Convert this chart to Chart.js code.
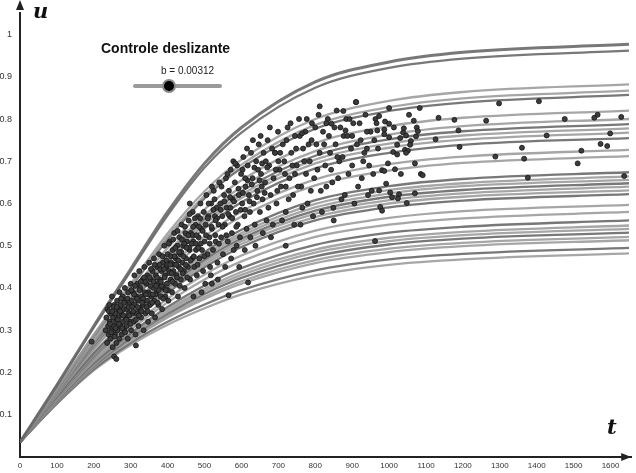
<!DOCTYPE html>
<html>
<head>
<meta charset="utf-8">
<script src="https://cdn.jsdelivr.net/npm/chart.js@4.4.1/dist/chart.umd.min.js"></script>
<style>
  body { margin: 0; background: #fff; overflow: hidden; width: 636px; height: 473px; position: relative;
         font-family: "Liberation Sans", Arial, sans-serif; }
  #wrap { position: absolute; left: -6px; top: 0; width: 642px; height: 473px; }
  #ttl { position: absolute; left: 101px; top: 40px; font-size: 14px; font-weight: bold; color: #111; }
  #bval { position: absolute; left: 161px; top: 65px; font-size: 10px; color: #222; }
  #track { position: absolute; left: 133px; top: 84px; width: 89px; height: 4px; border-radius: 2px; background: #9a9a9a; }
  #knob { position: absolute; left: 162px; top: 79px; width: 10px; height: 10px; border-radius: 50%;
          background: #000; border: 2px solid #8a8a8a; }
  .ax { position: absolute; font-family: "DejaVu Serif", "Liberation Serif", serif; font-style: italic;
        font-weight: bold; color: #111; font-size: 21px; }
  #lu { left: 33px; top: -2px; }
  #lt { left: 607px; top: 414px; }
</style>
</head>
<body>
<div id="wrap"><canvas id="c"></canvas></div>
<div id="ttl">Controle deslizante</div>
<div id="bval">b = 0.00312</div>
<div id="track"></div><div id="knob"></div>
<div class="ax" id="lu">u</div>
<div class="ax" id="lt">t</div>
<script>
// tempos onde as curvas foram lidas
const tKnots = [0, 100, 200, 300, 400, 500, 600, 800, 1000, 1200, 1650];

// curvas (u em cada tempo acima)
const curves = [
  [0.035,0.170,0.310,0.445,0.580,0.695,0.780,0.888,0.935,0.958,0.977],
  [0.035,0.169,0.307,0.440,0.572,0.685,0.768,0.874,0.921,0.943,0.962],
  [0.035,0.162,0.290,0.410,0.529,0.629,0.704,0.800,0.843,0.864,0.882],
  [0.035,0.160,0.287,0.405,0.521,0.619,0.692,0.786,0.828,0.849,0.867],
  [0.035,0.159,0.285,0.401,0.515,0.612,0.684,0.777,0.819,0.839,0.857],
  [0.035,0.156,0.277,0.388,0.495,0.586,0.655,0.743,0.783,0.803,0.820],
  [0.035,0.154,0.272,0.381,0.484,0.572,0.639,0.724,0.763,0.783,0.800],
  [0.035,0.153,0.270,0.376,0.478,0.564,0.629,0.713,0.752,0.771,0.788],
  [0.035,0.152,0.268,0.373,0.473,0.557,0.621,0.704,0.742,0.761,0.778],
  [0.035,0.151,0.266,0.369,0.467,0.550,0.613,0.695,0.732,0.751,0.768],
  [0.035,0.150,0.263,0.364,0.460,0.541,0.603,0.683,0.720,0.739,0.755],
  [0.035,0.148,0.257,0.354,0.445,0.522,0.581,0.657,0.693,0.711,0.727],
  [0.035,0.147,0.254,0.349,0.437,0.512,0.569,0.643,0.678,0.696,0.712],
  [0.035,0.143,0.246,0.335,0.417,0.485,0.538,0.608,0.641,0.658,0.674],
  [0.035,0.142,0.244,0.331,0.411,0.478,0.530,0.599,0.632,0.648,0.664],
  [0.035,0.142,0.242,0.328,0.407,0.473,0.524,0.591,0.624,0.641,0.656],
  [0.035,0.141,0.240,0.325,0.402,0.467,0.517,0.583,0.616,0.632,0.648],
  [0.035,0.140,0.239,0.322,0.398,0.461,0.511,0.576,0.608,0.624,0.640],
  [0.035,0.139,0.237,0.319,0.393,0.455,0.504,0.568,0.600,0.616,0.631],
  [0.035,0.139,0.235,0.316,0.389,0.449,0.497,0.560,0.591,0.607,0.622],
  [0.035,0.136,0.229,0.307,0.375,0.432,0.477,0.536,0.566,0.582,0.597],
  [0.035,0.135,0.226,0.301,0.366,0.420,0.463,0.521,0.550,0.565,0.580],
  [0.035,0.133,0.222,0.293,0.355,0.406,0.447,0.502,0.531,0.545,0.560],
  [0.035,0.132,0.219,0.289,0.349,0.398,0.438,0.491,0.519,0.533,0.548],
  [0.035,0.131,0.217,0.286,0.344,0.392,0.431,0.484,0.511,0.525,0.540],
  [0.035,0.130,0.215,0.283,0.339,0.386,0.424,0.475,0.503,0.517,0.531],
  [0.035,0.130,0.213,0.279,0.334,0.379,0.416,0.466,0.493,0.507,0.521],
  [0.035,0.129,0.212,0.276,0.330,0.374,0.410,0.459,0.485,0.499,0.513],
  [0.035,0.127,0.208,0.270,0.320,0.361,0.395,0.442,0.468,0.481,0.495],
  [0.035,0.126,0.205,0.265,0.313,0.352,0.385,0.430,0.455,0.468,0.482]
];

// pontos observados [t, u]
const samples = [
  [232,0.30],[234,0.33],[236,0.27],[237,0.35],[239,0.31],[240,0.29],[242,0.36],[243,0.32],[245,0.28],[246,0.34],
  [248,0.30],[249,0.38],[251,0.26],[252,0.33],[254,0.31],[255,0.36],[257,0.29],[258,0.34],[260,0.32],[261,0.27],
  [263,0.37],[264,0.30],[266,0.35],[267,0.33],[269,0.28],[270,0.39],[272,0.31],[273,0.36],[275,0.34],[276,0.29],
  [278,0.38],[279,0.32],[281,0.35],[283,0.30],[284,0.40],[286,0.33],[287,0.37],[289,0.31],[290,0.35],[292,0.28],
  [293,0.39],[295,0.34],[297,0.36],[298,0.32],[300,0.41],[301,0.30],[303,0.37],[305,0.34],[306,0.39],[308,0.32],
  [310,0.43],[311,0.36],[313,0.29],[315,0.38],[316,0.34],[318,0.41],[320,0.37],[321,0.31],[323,0.44],[325,0.35],
  [326,0.40],[328,0.33],[330,0.38],[332,0.42],[333,0.36],[335,0.30],[337,0.45],[338,0.39],[340,0.34],[342,0.41],
  [344,0.37],[345,0.43],[347,0.32],[349,0.39],[350,0.46],[352,0.36],[354,0.42],[356,0.38],[357,0.34],[359,0.44],
  [361,0.40],[363,0.47],[364,0.37],[366,0.33],[368,0.43],[370,0.39],[372,0.45],[374,0.41],[375,0.36],[377,0.48],
  [379,0.42],[381,0.38],[383,0.44],[385,0.35],[387,0.46],[389,0.40],[391,0.50],[393,0.43],[394,0.38],[396,0.45],
  [398,0.41],[400,0.48],[402,0.37],[404,0.44],[406,0.51],[408,0.42],[410,0.46],[412,0.39],[414,0.49],[416,0.44],
  [418,0.53],[420,0.41],[422,0.47],[424,0.43],[426,0.50],[428,0.38],[430,0.45],[432,0.52],[434,0.48],[436,0.42],
  [438,0.55],[440,0.46],[442,0.50],[444,0.44],[446,0.40],[448,0.53],[450,0.47],[452,0.51],[455,0.45],[457,0.56],
  [459,0.49],[461,0.42],[463,0.53],[466,0.47],[468,0.58],[470,0.51],[472,0.45],[475,0.55],[477,0.49],[479,0.43],
  [482,0.57],[484,0.52],[486,0.47],[489,0.60],[491,0.54],[493,0.49],[496,0.44],[498,0.58],[500,0.51],[503,0.55],
  [505,0.62],[508,0.48],[510,0.57],[513,0.52],[515,0.45],[518,0.60],[520,0.54],[523,0.49],[525,0.63],[528,0.57],
  [530,0.51],[533,0.59],[535,0.46],[538,0.55],[540,0.65],[543,0.60],[545,0.52],[548,0.57],[550,0.48],[553,0.62],
  [555,0.55],[558,0.66],[560,0.59],[563,0.51],[566,0.63],[568,0.57],[571,0.68],[574,0.53],[576,0.61],[579,0.49],
  [582,0.65],[585,0.58],[588,0.69],[590,0.55],[593,0.62],[596,0.52],[599,0.67],[602,0.60],[605,0.71],[608,0.57],
  [611,0.64],[614,0.54],[617,0.69],[620,0.62],[623,0.58],[626,0.72],[630,0.66],[633,0.60],[636,0.55],[640,0.70],
  [643,0.63],[647,0.74],[650,0.58],[653,0.67],[657,0.61],[660,0.72],[664,0.65],[668,0.56],[671,0.75],[675,0.69],
  [679,0.62],[683,0.73],[687,0.66],[691,0.72],[695,0.60],[699,0.77],[703,0.68],[707,0.64],[712,0.74],[716,0.70],
  [720,0.58],[725,0.78],[730,0.66],[735,0.72],[740,0.62],[745,0.76],[750,0.69],[756,0.80],[762,0.64],[767,0.73],
  [773,0.77],[779,0.60],[785,0.70],[791,0.79],[797,0.66],[803,0.74],[809,0.81],[815,0.63],[821,0.77],[827,0.69],
  [834,0.80],[840,0.72],[846,0.65],[852,0.78],[858,0.82],[865,0.70],[871,0.61],[877,0.76],[884,0.80],[890,0.67],
  [897,0.73],[903,0.79],[910,0.84],[916,0.64],[923,0.75],[930,0.70],[936,0.81],[943,0.62],[950,0.77],[957,0.67],
  [963,0.80],[970,0.73],
  [241,0.345],[247,0.295],[253,0.355],[259,0.305],[265,0.325],[271,0.345],[277,0.305],[282,0.365],[288,0.325],
  [294,0.355],[299,0.315],[304,0.355],[309,0.385],[314,0.325],[319,0.355],[324,0.395],[329,0.345],[334,0.375],
  [339,0.415],[343,0.355],[348,0.385],[353,0.405],[358,0.365],[362,0.415],[367,0.385],[371,0.425],[376,0.395],
  [380,0.445],[384,0.405],[388,0.375],[392,0.425],[397,0.465],[401,0.395],[405,0.435],[409,0.475],[413,0.415],
  [417,0.455],[421,0.495],[425,0.425],[429,0.465],[433,0.405],[437,0.485],[441,0.435],[445,0.505],[449,0.455],
  [453,0.425],[458,0.495],[462,0.465],[467,0.525],[471,0.475],[476,0.505],[481,0.455],[485,0.545],[490,0.505],
  [495,0.535],[499,0.475],[504,0.525],[509,0.565],[514,0.505],[519,0.545],[524,0.585],[529,0.525],[534,0.565],
  [539,0.505],[544,0.585],[549,0.545],[554,0.605],[559,0.525],[564,0.575],[569,0.615],[575,0.565],[580,0.605],
  [586,0.545],[592,0.635],[598,0.585],[604,0.625],[610,0.585],[616,0.655],[622,0.605],[628,0.645],[635,0.685],
  [642,0.615],[649,0.655],[656,0.695],[663,0.625],[670,0.685],
  [244,0.315],[250,0.345],[256,0.285],[262,0.355],[268,0.315],[274,0.375],[280,0.335],[285,0.295],[291,0.375],
  [296,0.335],[302,0.395],[307,0.345],[312,0.405],[317,0.375],[322,0.335],[327,0.415],[331,0.365],[336,0.425],
  [341,0.385],[346,0.345],[351,0.425],[355,0.445],[360,0.385],[365,0.455],[369,0.405],[373,0.365],[378,0.455],
  [382,0.415],[386,0.475],[390,0.445],[395,0.395],[399,0.455],[403,0.505],[407,0.455],[411,0.435],[415,0.515],
  [419,0.475],[423,0.455],[427,0.535],[431,0.485],[435,0.445],[439,0.515],[443,0.475],[447,0.545],[451,0.495],
  [456,0.525],[460,0.575],[465,0.505],[469,0.545],[474,0.565],[478,0.525],[483,0.495],[488,0.565],
  [492,0.39],[502,0.41],[511,0.60],[517,0.43],[527,0.61],[536,0.42],[546,0.64],[556,0.45],[562,0.67],[572,0.47],
  [578,0.70],[587,0.50],[594,0.45],[603,0.68],[609,0.49],[615,0.73],[624,0.52],[631,0.75],[638,0.50],[645,0.68],
  [652,0.76],[658,0.53],[666,0.70],[673,0.59],[677,0.78],[685,0.55],[693,0.68],[697,0.63],[705,0.72],[710,0.56],
  [718,0.67],[722,0.75],[728,0.61],[733,0.79],[738,0.69],[743,0.55],[748,0.73],[753,0.64],[758,0.76],[765,0.59],
  [770,0.70],[775,0.67],[782,0.74],[788,0.63],[794,0.57],[800,0.78],[806,0.68],[812,0.72],[818,0.58],[824,0.74],
  [830,0.64],[837,0.76],[843,0.68],[849,0.59],[855,0.74],[862,0.66],[868,0.78],[874,0.71],[880,0.62],[887,0.76],
  [893,0.80],[900,0.69],[906,0.60],[913,0.74],[920,0.79],[926,0.66],[933,0.72],[940,0.77],[946,0.69],[953,0.63],
  [960,0.75],[966,0.79],[720,0.64],[745,0.67],[790,0.75],[830,0.79],[860,0.71],[900,0.76],[940,0.73],[700,0.70],
  [655,0.64],[610,0.66],[570,0.59],[530,0.56],
  [194,0.273],[255,0.238],[261,0.232],[314,0.264],[565,0.383],[618,0.413],[470,0.380],[520,0.410],[680,0.520],
  [760,0.550],[850,0.560],[720,0.500],[583,0.695],[691,0.720],[764,0.766],[777,0.800],[812,0.830],[844,0.789],
  [876,0.819],[882,0.773],[911,0.840],[520,0.640],[460,0.600],
  [1000,0.826],[1083,0.826],[973,0.807],[1054,0.810],[1134,0.803],[1177,0.798],[989,0.794],[1000,0.789],
  [1067,0.796],[1013,0.780],[1040,0.778],[1075,0.780],[968,0.773],[987,0.775],[1188,0.773],[1078,0.771],
  [987,0.764],[1000,0.757],[1038,0.768],[1046,0.761],[1030,0.755],[1073,0.759],[1059,0.748],[1057,0.739],
  [1126,0.752],[1022,0.739],[1011,0.722],[1022,0.716],[1043,0.727],[1051,0.725],[1046,0.720],[1191,0.734],
  [997,0.695],[1070,0.695],[981,0.679],[987,0.677],[1016,0.681],[1032,0.670],[1086,0.670],[1091,0.667],
  [992,0.647],[973,0.631],[1003,0.626],[1027,0.622],[1070,0.624],[1008,0.615],[1024,0.612],[1048,0.601],
  [976,0.592],[981,0.583],[962,0.511],
  [1298,0.837],[1406,0.842],[1263,0.796],[1476,0.800],[1556,0.803],[1565,0.810],[1629,0.805],[1427,0.761],
  [1599,0.766],[1360,0.732],[1573,0.741],[1591,0.736],[1288,0.711],[1366,0.706],[1521,0.725],[1511,0.695],
  [1376,0.661],[1637,0.665]
];

const xTicks = [0,100,200,300,400,500,600,700,800,900,1000,1100,1200,1300,1400,1500,1600];
const yTicks = [0.1,0.2,0.3,0.4,0.5,0.6,0.7,0.8,0.9,1];

const darkLine = 'rgba(105,105,105,0.9)';
const lightLine = 'rgba(150,150,150,0.85)';

const datasets = curves.map((vals, i) => ({
  type: 'line',
  data: tKnots.map((t, j) => ({ x: t, y: vals[j] })),
  borderColor: (i === 0 || i % 3 === 1) ? darkLine : lightLine,
  borderWidth: i === 0 ? 3 : 2.3,
  pointRadius: 0,
  fill: false,
  cubicInterpolationMode: 'monotone',
  order: 2
}));

datasets.push({
  type: 'scatter',
  data: samples.map(p => ({ x: p[0], y: p[1] })),
  pointRadius: 2.5,
  backgroundColor: '#3d3d3d',
  borderColor: '#151515',
  borderWidth: 0.8,
  order: 1
});

// setas nos eixos
const arrows = {
  id: 'arrows',
  afterDraw(chart) {
    const ctx = chart.ctx, a = chart.chartArea;
    ctx.save();
    ctx.fillStyle = '#222';
    ctx.beginPath();
    ctx.moveTo(a.left, 0);
    ctx.lineTo(a.left - 4, 10);
    ctx.lineTo(a.left + 4, 10);
    ctx.closePath();
    ctx.fill();
    ctx.beginPath();
    ctx.moveTo(a.right, a.bottom);
    ctx.lineTo(a.right - 10, a.bottom - 4);
    ctx.lineTo(a.right - 10, a.bottom + 4);
    ctx.closePath();
    ctx.fill();
    ctx.restore();
  }
};

new Chart(document.getElementById('c'), {
  data: { datasets },
  plugins: [arrows],
  options: {
    responsive: true,
    maintainAspectRatio: false,
    animation: false,
    layout: { padding: 0 },
    plugins: { legend: { display: false }, tooltip: { enabled: false } },
    scales: {
      x: {
        type: 'linear',
        min: 0,
        max: 1656,
        afterBuildTicks: s => { s.ticks = xTicks.map(v => ({ value: v })); },
        afterFit: s => { s.height = 16; },
        grid: { display: true, drawOnChartArea: false, drawTicks: false, color: 'rgba(0,0,0,0)' },
        border: { display: true, color: '#222', width: 2 },
        ticks: { font: { size: 8, family: 'Liberation Sans' }, color: '#333', padding: 4, maxRotation: 0, autoSkip: false,
                 callback: v => String(v) }
      },
      y: {
        type: 'linear',
        min: 0,
        max: 1.05,
        afterBuildTicks: s => { s.ticks = yTicks.map(v => ({ value: v })); },
        afterFit: s => { s.width = 26; },
        grid: { display: true, drawOnChartArea: false, drawTicks: false, color: 'rgba(0,0,0,0)' },
        border: { display: true, color: '#222', width: 2 },
        ticks: { font: { size: 9, family: 'Liberation Sans' }, color: '#333', padding: 8,
                 callback: v => String(Math.round(v * 10) / 10) }
      }
    }
  }
});
</script>
</body>
</html>
